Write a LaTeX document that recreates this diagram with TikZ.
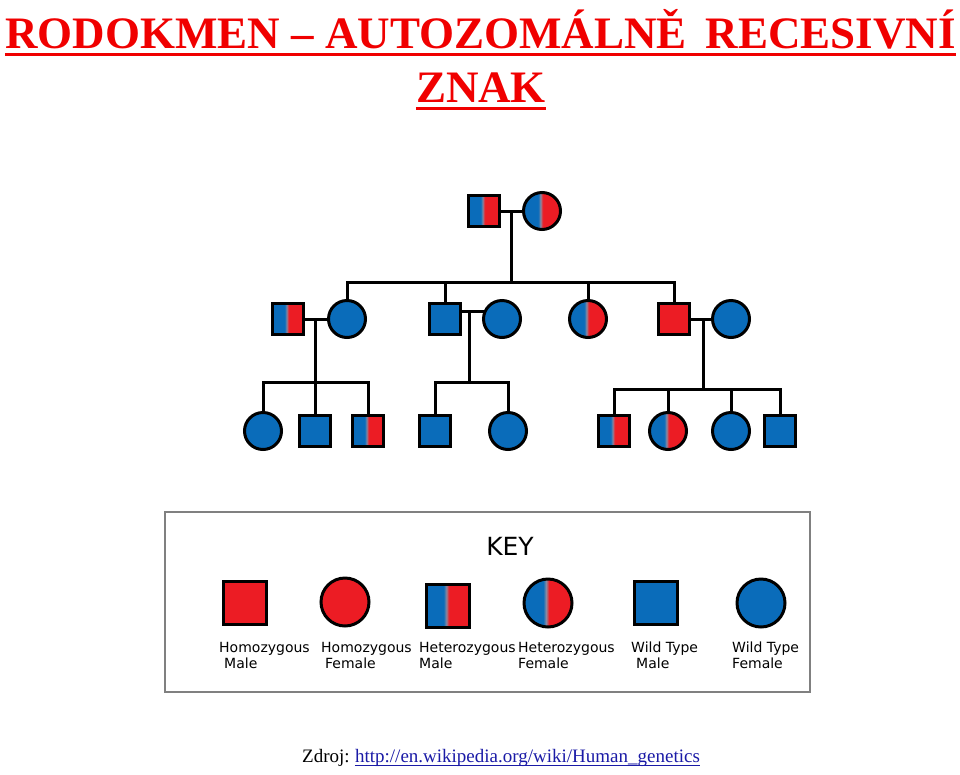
\documentclass[tikz,border=0pt]{standalone}
\usepackage{fontspec}
\setmainfont{Liberation Serif}
\newfontfamily\keyfont{DejaVu Sans}
\usepackage{xcolor}
\usetikzlibrary{positioning,calc}
\definecolor{wtblue}{HTML}{0A6CBA}
\definecolor{mutred}{HTML}{EC1C24}
\definecolor{midgray}{HTML}{8C8AA0}
\definecolor{titlered}{HTML}{F00000}
\definecolor{linkblue}{HTML}{1A1AA6}
\definecolor{keyframe}{HTML}{808080}
\pgfdeclarehorizontalshading{hetero}{100bp}{color(0bp)=(wtblue); color(25bp)=(wtblue);
  color(45bp)=(wtblue); color(48bp)=(midgray); color(51bp)=(mutred);
  color(75bp)=(mutred); color(100bp)=(mutred)}
\tikzset{
  sym/.style={draw=black, line width=3pt, inner sep=0pt, outer sep=0pt},
  male/.style={sym, rectangle, minimum size=31pt},
  female/.style={sym, circle, minimum size=37pt},
  keymale/.style={sym, rectangle, minimum size=43pt},
  keyfemale/.style={sym, circle, minimum size=48pt},
  wild/.style={fill=wtblue},
  homo/.style={fill=mutred},
  hetr/.style={shade, shading=hetero},
  kin/.style={draw=black, line width=3pt},
  title/.style={font=\fontsize{45}{54}\selectfont\bfseries, text=titlered,
                inner sep=0pt},
  uline/.style={draw=titlered, line width=3pt},
  keybox/.style={draw=keyframe, line width=2pt, minimum width=645pt,
                 minimum height=180pt, inner sep=0pt},
  keytext/.style={font=\keyfont\fontsize{14}{16}\selectfont, align=left,
                  inner sep=0pt},
  src/.style={font=\fontsize{19}{22}\selectfont, inner sep=0pt},
}
\begin{document}
\begin{tikzpicture}[x=1pt, y=-1pt]
\useasboundingbox (0,0) rectangle (960,774);

% ---- title ---------------------------------------------------------
\node[title, anchor=base west] (head) at (5,48)
     {RODOKMEN – AUTOZOMÁLNĚ\hspace{19pt}RECESIVNÍ};
\draw[uline] ([yshift=-6pt]head.base west) -- ([yshift=-6pt]head.base east);
\node[title, anchor=base] (head2) at (481,102) {ZNAK};
\draw[uline] ([yshift=-6.5pt]head2.base west) -- ([yshift=-6.5pt]head2.base east);

% ---- generation I --------------------------------------------------
\node[male, hetr]   (hm1) at (484,211) {};
\node[female, hetr] (hf1) at (542,211) {};
\draw[kin] (hm1) -- (hf1);
\coordinate (c0) at (511,211);
\coordinate (s0) at (511,282);
\draw[kin] (c0) -- (s0);

% ---- generation II -------------------------------------------------
\node[male, hetr]   (hm2a) at (288,319) {};
\node[female, wild] (wf2a) at (347,319) {};
\node[male, wild]   (wm2b) at (445,319) {};
\node[female, wild] (wf2b) at (502,319) {};
\node[female, hetr] (hf2c) at (588,319) {};
\node[male, homo]   (hm2d) at (674,319) {};
\node[female, wild] (wf2d) at (731,319) {};
\foreach \c in {wf2a,wm2b,hf2c,hm2d} \draw[kin] (s0) -| (\c.north);

\draw[kin] (hm2a) -- (wf2a);
\draw[kin] ([yshift=8pt]wm2b.east) -- ([yshift=8pt]wf2b.west);
\draw[kin] (hm2d) -- (wf2d);
\coordinate (c1) at (315,319);
\coordinate (s1) at (315,382);
\coordinate (c2) at (469,311);
\coordinate (s2) at (469,382);
\coordinate (c4) at (703,319);
\coordinate (s4) at (703,389);
\draw[kin] (c1) -- (s1);
\draw[kin] (c2) -- (s2);
\draw[kin] (c4) -- (s4);

% ---- generation III ------------------------------------------------
\node[female, wild] (wf3a) at (263,431) {};
\node[male, wild]   (wm3b) at (315,431) {};
\node[male, hetr]   (hm3c) at (368,431) {};
\node[male, wild]   (wm3d) at (435,431) {};
\node[female, wild] (wf3e) at (508,431) {};
\node[male, hetr]   (hm3f) at (614,431) {};
\node[female, hetr] (hf3g) at (668,431) {};
\node[female, wild] (wf3h) at (731,431) {};
\node[male, wild]   (wm3i) at (780,431) {};
\foreach \c in {wf3a,wm3b,hm3c} \draw[kin] (s1) -| (\c.north);
\foreach \c in {wm3d,wf3e} \draw[kin] (s2) -| (\c.north);
\foreach \c in {hm3f,hf3g,wf3h,wm3i} \draw[kin] (s4) -| (\c.north);

% ---- key -----------------------------------------------------------
\node[keybox] (key) at (487.5,602) {};
\node[font=\keyfont\fontsize{25}{30}\selectfont, anchor=base, inner sep=0pt]
     (keyhead) at (510,555) {KEY};
\node[keymale, homo]   (km1) at (245,603) {};
\node[keyfemale, homo] (kf1) at (345,602) {};
\node[keymale, hetr]   (km2) at (448,606) {};
\node[keyfemale, hetr] (kf2) at (548,603) {};
\node[keymale, wild]   (km3) at (656,603) {};
\node[keyfemale, wild] (kf3) at (761,603) {};
% base of a two-line label is its second line
\node[keytext, anchor=base west] (lm1) at (219,668) {Homozygous\\\hspace*{5pt}Male};
\node[keytext, anchor=base west] (lf1) at (321,668) {Homozygous\\\hspace*{4pt}Female};
\node[keytext, anchor=base west] (lm2) at (419,668) {Heterozygous\\Male};
\node[keytext, anchor=base west] (lf2) at (518,668) {Heterozygous\\Female};
\node[keytext, anchor=base west] (lm3) at (631,668) {Wild Type\\\hspace*{5pt}Male};
\node[keytext, anchor=base west] (lf3) at (732,668) {Wild Type\\Female};

% ---- source --------------------------------------------------------
\node[src, anchor=base west] (zdroj) at (302,762) {Zdroj:};
\node[src, anchor=base west, text=linkblue] (url) at ([xshift=5pt]zdroj.base east)
     {http://en.wikipedia.org/wiki/Human\_genetics};
\draw[linkblue, line width=1pt] ([yshift=-3pt]url.base west) -- ([yshift=-3pt]url.base east);
\end{tikzpicture}
\end{document}
